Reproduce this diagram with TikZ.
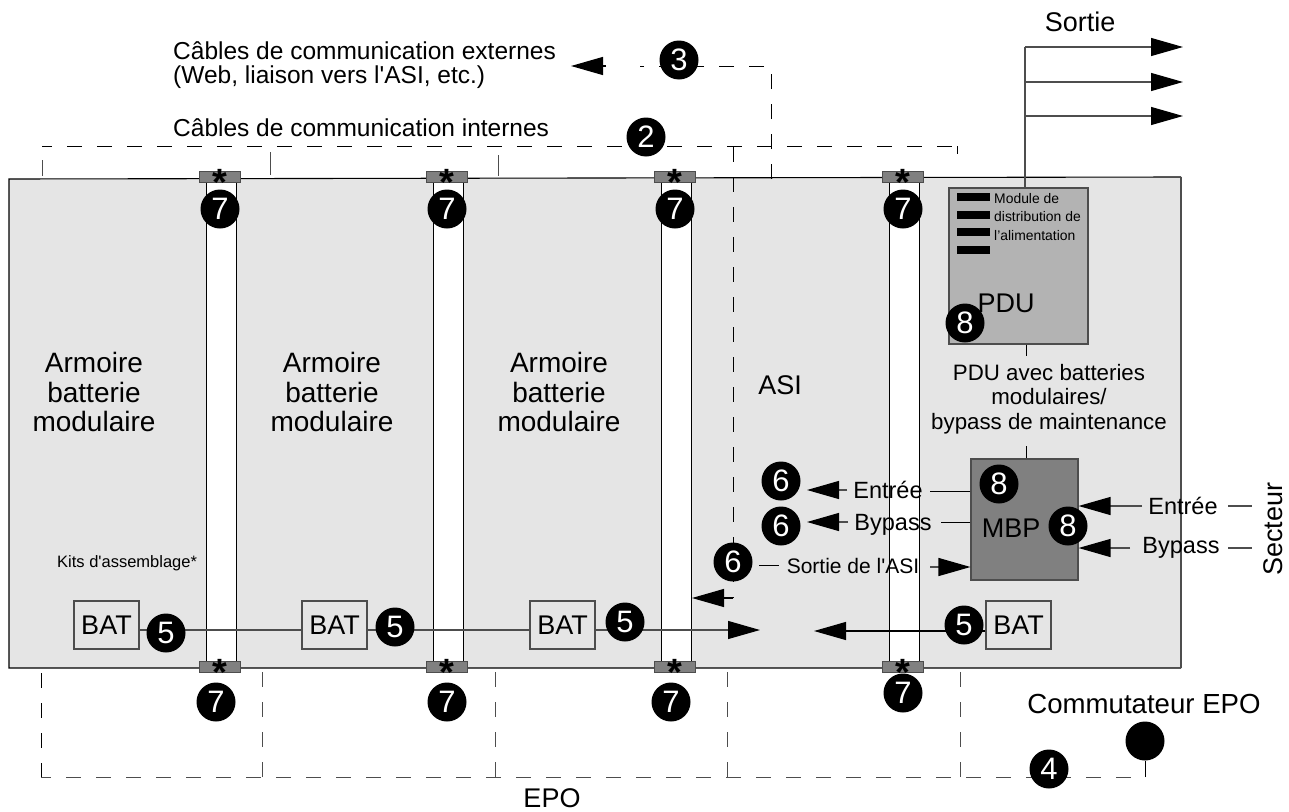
\documentclass[tikz,border=0pt]{standalone}
\usepackage{fontspec}
\setmainfont{Liberation Sans}[Ligatures=TeXOff]
\usepackage{xcolor}
\usepackage{tikz}
\usetikzlibrary{arrows.meta, positioning, calc}
\definecolor{cabgray}{HTML}{E5E5E5}
\definecolor{pdugray}{HTML}{B3B3B3}
\definecolor{mbpgray}{HTML}{808080}
\definecolor{linegray}{HTML}{4D4D4D}
\newcommand{\bracketstar}{\raisebox{-0.5em}[0pt][0pt]{\bfseries *}}
\tikzset{
	lblbig/.style={font=\fontsize{27}{29.5}\selectfont, inner sep=0pt, align=center},
	lblcab/.style={font=\fontsize{28}{29.5}\selectfont, inner sep=0pt, align=center},
	lblmid/.style={font=\fontsize{24.5}{24}\selectfont, inner sep=0pt, align=left, anchor=west},
	lblsig/.style={font=\fontsize{23.5}{24}\selectfont, inner sep=0pt, anchor=base},
	lblpdu/.style={font=\fontsize{22.3}{24.5}\selectfont, inner sep=0pt, align=center},
	lblsmall/.style={font=\fontsize{13.9}{18.5}\selectfont, inner sep=0pt, align=left, anchor=north west},
	badge/.style={circle, fill=black, text=white, minimum size=39pt, inner sep=0pt, font=\fontsize{31}{31}\selectfont},
	batbox/.style={draw=linegray, line width=1.1pt, minimum width=65pt, minimum height=48pt, inner sep=0pt, font=\fontsize{27}{27}\selectfont},
	bracket/.style={draw=linegray, fill=mbpgray, line width=1pt, minimum width=41pt, minimum height=11pt, inner sep=0pt},
	starmark/.style={font=\fontsize{38}{38}\selectfont, inner sep=0pt},
	strip/.style={draw=black, fill=white, line width=1pt},
	solidline/.style={draw=linegray, line width=1.2pt},
	thinline/.style={draw=black, line width=1pt},
	cable/.style={draw=black, line width=1pt, dash pattern=on 15pt off 15pt},
	tip/.style={-{Triangle[length=32pt,width=18pt,fill=black,color=black]}, draw=black, line width=1.2pt},
	tipgray/.style={tip, draw=linegray}
}
\begin{document}
\begin{tikzpicture}[x=1pt, y=-1pt]
	\useasboundingbox (0,0) rectangle (1289,811);
	% cabinet row
	\fill[cabgray] (9,179) -- (1181,177) -- (1181,668) -- (9,668) -- cycle;
	\draw[line width=1.1pt] (1181,177) -- (9,179) -- (9,668) -- (1181,668);
	\draw[linegray, line width=1.1pt] (1181,177) -- (1181,668);
	% white strips, brackets and their numbers
	\foreach \name/\sx/\bx/\bb/\by in {a/206/220/216/702, b/433/447/447/702, c/661/675/671/702, d/889/903/903/693} {
		\draw[strip] (\sx,179) rectangle ++(30.5,489);
		\node[bracket] (top\name) at (\sx+14,176.5) {};
		\node[bracket] (bot\name) at (\sx+14,666.5) {};
		\node[starmark] (topstar\name) at (top\name) {\bracketstar};
		\node[starmark] (botstar\name) at (bot\name) {\bracketstar};
		\node[badge] (seventop\name) at (\bx,209) {7};
		\node[badge] (sevenbot\name) at (\bb,\by) {7};
	}
	% internal cables
	\coordinate (inta) at (42,146);
	\coordinate (intb) at (957,146);
	\draw[cable, dash phase=5pt] (inta) -- (intb);
	\draw[linegray, line width=1pt] (42,160) -- (42,176);
	\draw[linegray, line width=1pt] (270,152) -- (270,175);
	\draw[linegray, line width=1pt] (498,155) -- (498,176);
	\draw[cable, dash pattern=on 8pt off 30pt] (intb) -- (957,176);
	\node[lblmid] (intlabel) at (173,128) {Câbles de communication internes};
	\node[badge] (two) at (646,137) {2};
	% external cables
	\node[lblmid] (extlabel) at (173,65) {Câbles de communication externes\\(Web, liaison vers l'ASI, etc.)};
	\coordinate (extend) at (571,66);
	\coordinate (extcorner) at (771,66);
	\coordinate (extdrop) at (771,179);
	\draw[cable] (extdrop) -- (extcorner) -- (640,66);
	\draw[tip] (606,66) -- (extend);
	\node[badge] (three) at (679,60) {3};
	% cabinet labels
	\node[lblcab] (armoirea) at (94,392) {Armoire\\batterie\\modulaire};
	\node[lblcab] (armoireb) at (332,392) {Armoire\\batterie\\modulaire};
	\node[lblcab] (armoirec) at (559,392) {Armoire\\batterie\\modulaire};
	\node[lblbig] (asi) at (780,385) {ASI};
	\node[font=\fontsize{16.5}{17}\selectfont, inner sep=0pt, anchor=west] (kits) at (57,563) {Kits d'assemblage*};
	% PDU
	\node[draw=linegray, fill=pdugray, line width=1.1pt, minimum width=139pt, minimum height=156pt, inner sep=0pt] (pdu) at (1018.5,266) {};
	\foreach \yb in {197,215,232,250} {
		\fill (957,\yb-4) rectangle ++(33,8);
	}
	\node[lblsmall] (pdutext) at (994,193) {Module de\\distribution de\\l’alimentation};
	\node[lblbig] (pduname) at (1006,303) {PDU};
	\node[badge] (eighta) at (965,323) {8};
	% outputs
	\coordinate (outa) at (1183,47);
	\coordinate (outb) at (1183,82);
	\coordinate (outc) at (1183,116);
	\coordinate (outroot) at (1025,47);
	\draw[solidline] (pdu.north -| outroot) -- (outroot);
	\draw[tipgray] (outroot) -- (outa);
	\draw[tipgray] (1025,82) -- (outb);
	\draw[tipgray] (1025,116) -- (outc);
	\node[lblbig] (sortie) at (1080,22) {Sortie};
	\node[lblpdu] (pducaption) at (1049,399) {PDU avec batteries\\modulaires/\\bypass de maintenance};
	% MBP
	\node[draw=linegray, fill=mbpgray, line width=1.1pt, minimum width=107pt, minimum height=121pt, inner sep=0pt] (mbp) at (1024.5,519.5) {};
	\node[lblbig] (mbpname) at (1011,528) {MBP};
	\node[badge] (eightb) at (999,484) {8};
	\node[badge] (eightc) at (1068,526) {8};
	\draw[thinline] (pdu.south -| 1026,0) -- (1026,356);
	\draw[thinline] (mbp.north -| 1026,0) -- (1026,446);
	% left side of MBP
	\coordinate (sigcable) at (733,147);
	\coordinate (sigcableend) at (733,598);
	\coordinate (tipups) at (692,598);
	\draw[cable] (sigcable) -- (sigcableend);
	\draw[tip] (sigcableend) -- (tipups);
	\node[badge] (sixa) at (781,481) {6};
	\node[badge] (sixb) at (781,526) {6};
	\node[badge] (sixc) at (733,562) {6};
	\node[lblsig] (entreeleft) at (888,498) {Entrée};
	\node[lblsig] (bypassleft) at (893,530) {Bypass};
	\node[font=\fontsize{21}{21}\selectfont, inner sep=0pt, anchor=base] (sortieasi) at (853,573) {Sortie de l'ASI};
	\draw[thinline] (mbp.west |- 0,491) -- (930,491);
	\draw[tipgray] (847,490) -- (807,490);
	\draw[thinline] (mbp.west |- 0,522) -- (941,522);
	\draw[tipgray] (848,522) -- (807,522);
	\draw[thinline] (759,565) -- (779,565);
	\draw[tipgray] (930,567) -- (mbp.west |- 0,567);
	% right side of MBP
	\node[lblsig] (entreeright) at (1183,514) {Entrée};
	\node[lblsig] (bypassright) at (1181,553) {Bypass};
	\node[lblbig, rotate=90] (secteur) at (1273,529) {Secteur};
	\draw[tipgray] (1142,506) -- (mbp.east |- 0,506);
	\draw[tipgray] (1130,548) -- (mbp.east |- 0,548);
	\draw[solidline] (1228,506) -- (1252,506);
	\draw[solidline] (1228,548) -- (1252,548);
	% batteries
	\node[batbox] (bata) at (106.5,625) {BAT};
	\node[batbox] (batb) at (334.5,625) {BAT};
	\node[batbox] (batc) at (562.5,625) {BAT};
	\node[batbox] (batd) at (1018.5,625) {BAT};
	\coordinate (busl) at (760,630);
	\coordinate (busr) at (814,631);
	\draw[solidline] (bata.east |- 0,630) -- (batb.west |- 0,630);
	\draw[solidline] (batb.east |- 0,630) -- (batc.west |- 0,630);
	\draw[tipgray] (batc.east |- 0,630) -- (busl);
	\draw[tip] (batd.west |- 0,631) -- (busr);
	\node[badge] (fivea) at (166,633) {5};
	\node[badge] (fiveb) at (395,627) {5};
	\node[badge] (fivec) at (625,622) {5};
	\node[badge] (fived) at (964,625) {5};
	% EPO cables
	\coordinate (eposwitchfoot) at (1145,777);
	\draw[cable] (41,673) -- (41,777);
	\draw[cable, draw=linegray, dash phase=5pt] (41,777) -- (eposwitchfoot);
	\foreach \xe in {262,495,727,960} {
		\draw[cable, draw=linegray] (\xe,672) -- (\xe,777);
	}
	\node[badge] (epobutton) at (1145,741) {};
	\draw[thinline] (eposwitchfoot) -- (epobutton);
	\node[badge] (four) at (1049,769) {4};
	\node[font=\fontsize{27.6}{29}\selectfont, inner sep=0pt] (epocaption) at (1144,704) {Commutateur EPO};
	\node[lblbig] (epo) at (552,798) {EPO};
\end{tikzpicture}
\end{document}
